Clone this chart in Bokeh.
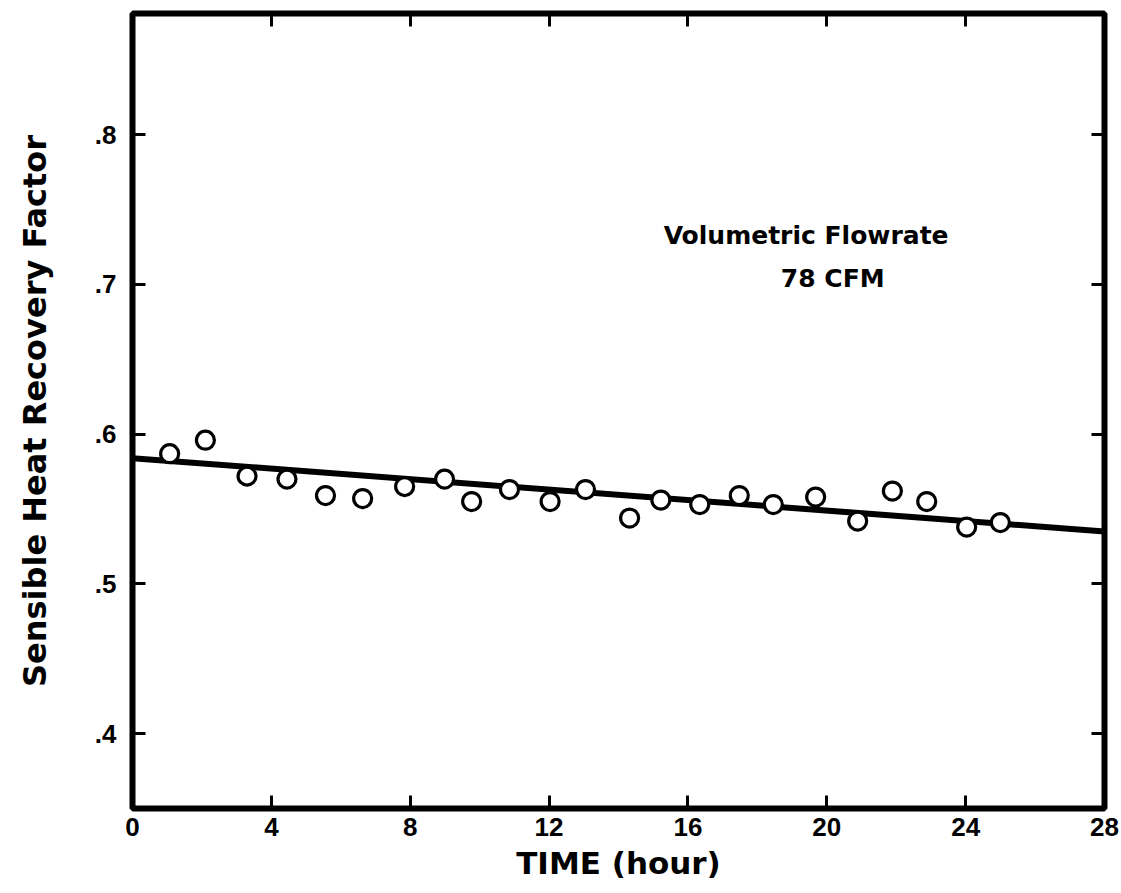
from bokeh.plotting import figure
from bokeh.models import LinearAxis, FixedTicker, Range1d, Label
from bokeh.embed import file_html
from bokeh.resources import INLINE

# ---- data ----
time_h = [1.07, 2.1, 3.3, 4.45, 5.56, 6.63, 7.84, 8.99, 9.77, 10.86, 12.03, 13.05,
          14.32, 15.22, 16.34, 17.48, 18.46, 19.68, 20.89, 21.89, 22.88, 24.03, 25.0]
shrf = [0.587, 0.596, 0.572, 0.570, 0.559, 0.557, 0.565, 0.570, 0.555, 0.563, 0.555, 0.563,
        0.544, 0.556, 0.553, 0.559, 0.553, 0.558, 0.542, 0.562, 0.555, 0.538, 0.541]
fit_time = [0, 28]
fit_shrf = [0.584, 0.535]

x_ticks = [0, 4, 8, 12, 16, 20, 24, 28]
x_tick_labels = ["0", "4", "8", "12", "16", "20", "24", "28"]
y_ticks = [0.4, 0.5, 0.6, 0.7, 0.8]
y_tick_labels = [".4", ".5", ".6", ".7", ".8"]

FONT = "Liberation Sans"
WIDE = "DejaVu Sans"

p = figure(width=1121, height=893,
           x_range=Range1d(0, 28), y_range=Range1d(0.35, 0.881),
           output_backend="svg", toolbar_location=None,
           min_border_left=132, min_border_right=17,
           min_border_top=13, min_border_bottom=85)
p.background_fill_color = "white"
p.border_fill_color = "white"
p.grid.visible = False
p.outline_line_color = "black"
p.outline_line_width = 6
p.outline_line_alpha = 1.0

def style_axis(ax, ticks, labels, show_labels, standoff):
    ax.ticker = FixedTicker(ticks=ticks)
    ax.major_label_overrides = {t: l for t, l in zip(ticks, labels)}
    ax.axis_line_color = None
    ax.major_tick_in = 13
    ax.major_tick_out = 0
    ax.major_tick_line_width = 3
    ax.major_tick_line_color = "black"
    ax.minor_tick_line_color = None
    ax.major_label_text_font = FONT
    ax.major_label_text_font_style = "bold"
    ax.major_label_text_font_size = "26px"
    ax.major_label_text_color = "black" if show_labels else None
    ax.major_label_standoff = standoff

style_axis(p.xaxis[0], x_ticks, x_tick_labels, True, 9)
style_axis(p.yaxis[0], y_ticks, y_tick_labels, True, 16)

p.xaxis[0].axis_label = "TIME (hour)"
p.xaxis[0].axis_label_text_font = WIDE
p.xaxis[0].axis_label_text_font_style = "bold"
p.xaxis[0].axis_label_text_font_size = "31px"
p.xaxis[0].axis_label_text_color = "black"
p.xaxis[0].axis_label_standoff = 6

p.yaxis[0].axis_label = "Sensible Heat Recovery Factor"
p.yaxis[0].axis_label_text_font = WIDE
p.yaxis[0].axis_label_text_font_style = "bold"
p.yaxis[0].axis_label_text_font_size = "32px"
p.yaxis[0].axis_label_text_color = "black"
p.yaxis[0].axis_label_standoff = 38

top_ax = LinearAxis()
style_axis(top_ax, x_ticks[1:-1], x_tick_labels[1:-1], False, 0)
p.add_layout(top_ax, "above")
right_ax = LinearAxis()
style_axis(right_ax, y_ticks, y_tick_labels, False, 0)
p.add_layout(right_ax, "right")

# fitted line
p.line(fit_time, fit_shrf, line_color="black", line_width=6)

# data points
p.scatter(time_h, shrf, marker="circle", size=18, fill_color="white",
          line_color="black", line_width=3.2)

# annotation text
p.add_layout(Label(x=15.3, y=0.733, text="Volumetric Flowrate", text_font=WIDE,
                   text_font_size="25px", text_font_style="bold",
                   text_baseline="middle", text_align="left", text_color="black"))
p.add_layout(Label(x=20.17, y=0.704, text="78 CFM", text_font=WIDE,
                   text_font_size="25px", text_font_style="bold",
                   text_baseline="middle", text_align="center", text_color="black"))

open("out.html", "w").write(file_html(p, INLINE))
